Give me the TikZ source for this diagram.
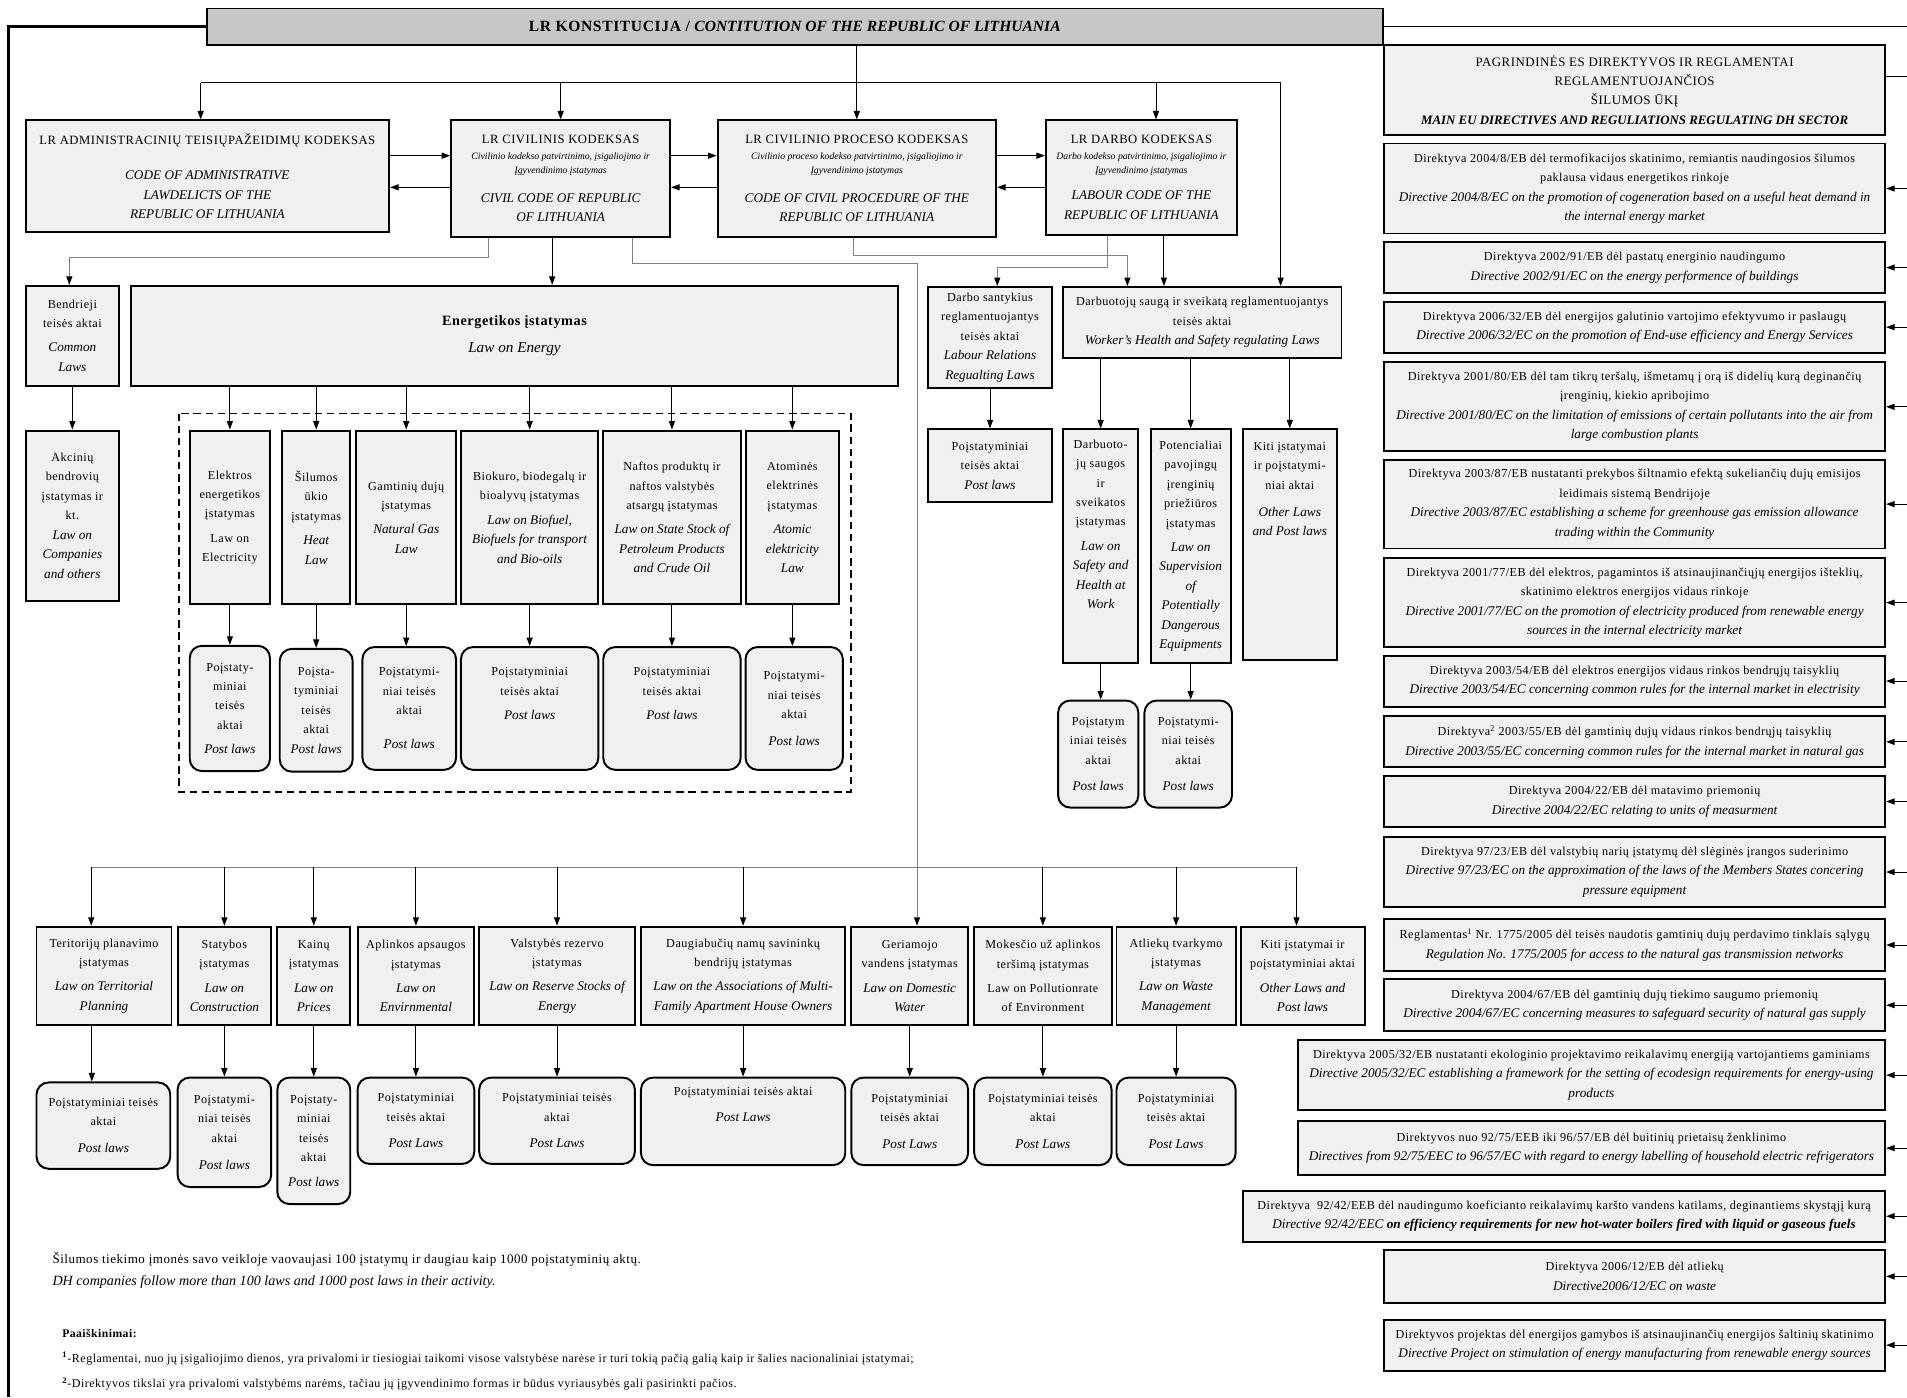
\documentclass[tikz,border=0pt]{standalone}
\usepackage{fontspec}
\setmainfont{Liberation Serif}[LetterSpace=4, ItalicFeatures={LetterSpace=0}, BoldItalicFeatures={LetterSpace=0}]
\usepackage{tikz}
\usetikzlibrary{arrows.meta}
\newcommand{\en}[1]{{\fontsize{10.9}{16}\selectfont\itshape #1}}
\newcommand{\sm}[1]{{\fontsize{8}{9}\selectfont\itshape #1}}

\begin{document}
\begin{tikzpicture}[x=1pt, y=-1pt,
    box/.style={draw, line width=1.6pt, fill=black!6, align=center, inner sep=2pt, font=\fontsize{10}{16}\selectfont},
    codebox/.style={box, font=\fontsize{10.4}{16}\selectfont},
    postbox/.style={box, rounded corners=10pt},
    dirbox/.style={box, minimum width=412pt},
    arr/.style={line width=0.8pt, -{Triangle[length=7pt, width=5pt]}},
    gline/.style={line width=0.8pt, draw=black!50},
    garr/.style={gline, -{Triangle[length=7pt, width=5pt, color=black]}},
    dashframe/.style={line width=1.5pt, dash pattern=on 6pt off 4pt},
    note/.style={anchor=base west, inner sep=0pt, font=\fontsize{10.7}{12}\selectfont}]
    \useasboundingbox (0,0) rectangle (1568,1149);
    \fill[white] (0,0) rectangle (1568,1149);

    \node[box, fill=black!22, minimum width=967pt, minimum height=30pt, font=\fontsize{12.8}{14}\selectfont] (const) at (653.5,22)
        {\textbf{LR KONSTITUCIJA / \textit{CONTITUTION OF THE REPUBLIC OF LITHUANIA}}};

    \node[codebox, minimum width=299pt, minimum height=92pt] (adm) at (170.5,145)
        {LR ADMINISTRACINIŲ TEISIŲPAŽEIDIMŲ KODEKSAS\\[13pt] \en{CODE OF ADMINISTRATIVE}\\ \en{LAWDELICTS OF THE}\\ \en{REPUBLIC OF LITHUANIA}};
    \node[codebox, minimum width=180pt, minimum height=96pt] (civ) at (461,147)
        {LR CIVILINIS KODEKSAS\\[-3pt] \sm{Civilinio kodekso patvirtinimo, įsigaliojimo ir}\\[-5pt] \sm{Įgyvendinimo įstatymas}\\[8pt] \en{CIVIL CODE OF REPUBLIC}\\ \en{OF LITHUANIA}};
    \node[codebox, minimum width=229pt, minimum height=96pt] (proc) at (704.5,147)
        {LR CIVILINIO PROCESO KODEKSAS\\[-3pt] \sm{Civilinio proceso kodekso patvirtinimo, įsigaliojimo ir}\\[-5pt] \sm{Įgyvendinimo įstatymas}\\[8pt] \en{CODE OF CIVIL PROCEDURE OF THE}\\ \en{REPUBLIC OF LITHUANIA}};
    \node[codebox, minimum width=157pt, minimum height=94pt] (darb) at (938.5,146)
        {LR DARBO KODEKSAS\\[-3pt] \sm{Darbo kodekso patvirtinimo, įsigaliojimo ir}\\[-5pt] \sm{Įgyvendinimo įstatymas}\\[6pt] \en{LABOUR CODE OF THE}\\ \en{REPUBLIC OF LITHUANIA}};

    \node[box, minimum width=77pt, minimum height=82pt] (bend) at (59.5,276)
        {Bendrieji\\ teisės aktai\\[4pt] \en{Common}\\ \en{Laws}};
    \node[box, minimum width=630pt, minimum height=82pt] (energ) at (423,276)
        {{\fontsize{11.7}{16}\selectfont\bfseries Energetikos įstatymas}\\[6pt] {\fontsize{12.5}{16}\selectfont\itshape Law on Energy}};
    \node[box, minimum width=102pt, minimum height=83pt] (dsant) at (814,277.5)
        {Darbo santykius\\ reglamentuojantys\\ teisės aktai\\ \en{Labour Relations}\\ \en{Regualting Laws}};
    \node[box, minimum width=229pt, minimum height=58pt] (dsauga) at (988.5,265)
        {Darbuotojų saugą ir sveikatą reglamentuojantys\\ teisės aktai\\ \en{Worker’s Health and Safety regulating Laws}};

    \node[box, minimum width=77pt, minimum height=140pt] (akc) at (59.5,424)
        {Akcinių\\ bendrovių\\ įstatymas ir\\ kt.\\ \en{Law on}\\ \en{Companies}\\ \en{and others}};

    \draw[dashframe] (147,340) rectangle (700,651);
    \node[box, minimum width=66pt, minimum height=143pt] (elek) at (189,425.5)
        {Elektros\\ energetikos\\ įstatymas\\[4pt] Law on\\ Electricity};
    \node[box, minimum width=56pt, minimum height=143pt] (silum) at (260,425.5)
        {Šilumos\\ ūkio\\ įstatymas\\[4pt] \en{Heat}\\ \en{Law}};
    \node[box, minimum width=82pt, minimum height=143pt] (gamt) at (334,425.5)
        {Gamtinių dujų\\ įstatymas\\[4pt] \en{Natural Gas}\\ \en{Law}};
    \node[box, minimum width=113pt, minimum height=143pt] (biok) at (435.5,425.5)
        {Biokuro, biodegalų ir\\ bioalyvų įstatymas\\[4pt] \en{Law on Biofuel,}\\ \en{Biofuels for transport}\\ \en{and Bio-oils}};
    \node[box, minimum width=113pt, minimum height=143pt] (naft) at (552.5,425.5)
        {Naftos produktų ir\\ naftos valstybės\\ atsargų įstatymas\\[4pt] \en{Law on State Stock of}\\ \en{Petroleum Products}\\ \en{and Crude Oil}};
    \node[box, minimum width=77pt, minimum height=143pt] (atom) at (651.5,425.5)
        {Atominės\\ elektrinės\\ įstatymas\\[4pt] \en{Atomic}\\ \en{elektricity}\\ \en{Law}};

    \node[postbox, minimum width=66pt, minimum height=103pt] (pelek) at (189,582.5)
        {Poįstaty-\\ miniai\\ teisės\\ aktai\\[4pt] \en{Post laws}};
    \node[postbox, minimum width=60pt, minimum height=101pt] (psilum) at (260,584)
        {Poįsta-\\ tyminiai\\ teisės\\ aktai\\ \en{Post laws}};
    \node[postbox, minimum width=77pt, minimum height=101pt] (pgamt) at (336.5,582.5)
        {Poįstatymi-\\ niai teisės\\ aktai\\[12pt] \en{Post laws}};
    \node[postbox, minimum width=113pt, minimum height=101pt] (pbiok) at (435.5,582.5)
        {Poįstatyminiai\\ teisės aktai\\[4pt] \en{Post laws}\\[8pt]};
    \node[postbox, minimum width=113pt, minimum height=101pt] (pnaft) at (552.5,582.5)
        {Poįstatyminiai\\ teisės aktai\\[4pt] \en{Post laws}\\[8pt]};
    \node[postbox, minimum width=80pt, minimum height=101pt] (patom) at (653,582.5)
        {Poįstatymi-\\ niai teisės\\ aktai\\[6pt] \en{Post laws}};

    \node[box, minimum width=102pt, minimum height=60pt] (dpost) at (814,383)
        {Poįstatyminiai\\ teisės aktai\\ \en{Post laws}};
    \node[box, minimum width=62pt, minimum height=192pt] (dsaug) at (905,449)
        {Darbuoto-\\ jų saugos\\ ir\\ sveikatos\\ įstatymas\\[4pt] \en{Law on}\\ \en{Safety and}\\ \en{Health at}\\ \en{Work}\\[20pt]};
    \node[box, minimum width=66pt, minimum height=192pt] (poten) at (979,449)
        {Potencialiai\\ pavojingų\\ įrenginių\\ priežiūros\\ įstatymas\\[4pt] \en{Law on}\\ \en{Supervision}\\ \en{of}\\ \en{Potentially}\\ \en{Dangerous}\\ \en{Equipments}};
    \node[box, minimum width=77pt, minimum height=190pt] (dkiti) at (1060.5,448)
        {Kiti įstatymai\\ ir poįstatymi-\\ niai aktai\\[6pt] \en{Other Laws}\\ \en{and Post laws}\\[76pt]};
    \node[postbox, minimum width=66pt, minimum height=88pt] (pdsaug) at (903,620)
        {Poįstatym\\ iniai teisės\\ aktai\\[6pt] \en{Post laws}};
    \node[postbox, minimum width=72pt, minimum height=88pt] (ppoten) at (977,620)
        {Poįstatymi-\\ niai teisės\\ aktai\\[6pt] \en{Post laws}};

    \node[box, minimum width=111pt, minimum height=81pt] (ter) at (85.5,802.5)
        {Teritorijų planavimo\\ įstatymas\\[4pt] \en{Law on Territorial}\\ \en{Planning}};
    \node[box, minimum width=77pt, minimum height=81pt] (stat) at (184.5,802.5)
        {Statybos\\ įstatymas\\[4pt] \en{Law on}\\ \en{Construction}};
    \node[box, minimum width=60pt, minimum height=81pt] (kain) at (258,802.5)
        {Kainų\\ įstatymas\\[4pt] \en{Law on}\\ \en{Prices}};
    \node[box, minimum width=96pt, minimum height=81pt] (aplink) at (342,802.5)
        {Aplinkos apsaugos\\ įstatymas\\[4pt] \en{Law on}\\ \en{Envirnmental}};
    \node[box, minimum width=128pt, minimum height=81pt] (valst) at (458,802.5)
        {Valstybės rezervo\\ įstatymas\\[4pt] \en{Law on Reserve Stocks of}\\ \en{Energy}};
    \node[box, minimum width=168pt, minimum height=81pt] (daug) at (611,802.5)
        {Daugiabučių namų savininkų\\ bendrijų įstatymas\\[4pt] \en{Law on the Associations of Multi-}\\ \en{Family Apartment House Owners}};
    \node[box, minimum width=96pt, minimum height=81pt] (geri) at (748,802.5)
        {Geriamojo\\ vandens įstatymas\\[4pt] \en{Law on Domestic}\\ \en{Water}};
    \node[box, minimum width=113pt, minimum height=81pt] (mok) at (857.5,802.5)
        {Mokesčio už aplinkos\\ teršimą įstatymas\\[4pt] Law on Pollutionrate\\ of Environment};
    \node[box, minimum width=98pt, minimum height=81pt] (atl) at (967,802.5)
        {Atliekų tvarkymo\\ įstatymas\\[4pt] \en{Law on Waste}\\ \en{Management}};
    \node[box, minimum width=102pt, minimum height=81pt] (bkiti) at (1071,802.5)
        {Kiti įstatymai ir\\ poįstatyminiai aktai\\[4pt] \en{Other Laws and}\\ \en{Post laws}};

    \node[postbox, minimum width=110pt, minimum height=71pt] (pter) at (85,925.5)
        {Poįstatyminiai teisės\\ aktai\\[6pt] \en{Post laws}};
    \node[postbox, minimum width=77pt, minimum height=90pt] (pstat) at (184.5,931)
        {Poįstatymi-\\ niai teisės\\ aktai\\[6pt] \en{Post laws}};
    \node[postbox, minimum width=60pt, minimum height=104pt] (pkain) at (258,938)
        {Poįstaty-\\ miniai\\ teisės\\ aktai\\[4pt] \en{Post laws}};
    \node[postbox, minimum width=96pt, minimum height=71pt] (paplink) at (342,921.5)
        {Poįstatyminiai\\ teisės aktai\\[6pt] \en{Post Laws}};
    \node[postbox, minimum width=128pt, minimum height=71pt] (pvalst) at (458,921.5)
        {Poįstatyminiai teisės\\ aktai\\[6pt] \en{Post Laws}};
    \node[postbox, minimum width=168pt, minimum height=72pt] (pdaug) at (611,922)
        {Poįstatyminiai teisės aktai\\[6pt] \en{Post Laws}\\[12pt]};
    \node[postbox, minimum width=96pt, minimum height=72pt] (pgeri) at (748,922)
        {Poįstatyminiai\\ teisės aktai\\[6pt] \en{Post Laws}};
    \node[postbox, minimum width=113pt, minimum height=72pt] (pmok) at (857.5,922)
        {Poįstatyminiai teisės\\ aktai\\[6pt] \en{Post Laws}};
    \node[postbox, minimum width=98pt, minimum height=72pt] (patl) at (967,922)
        {Poįstatyminiai\\ teisės aktai\\[6pt] \en{Post Laws}};

    \node[dirbox, minimum height=74pt, font=\fontsize{10.6}{16}\selectfont] (head) at (1344,74)
        {PAGRINDINĖS ES DIREKTYVOS IR REGLAMENTAI\\ REGLAMENTUOJANČIOS\\ ŠILUMOS ŪKĮ\\ \textbf{\textit{MAIN EU DIRECTIVES AND REGULIATIONS REGULATING DH SECTOR}}};
    \node[dirbox, minimum height=74pt] (d1) at (1344,155)
        {Direktyva 2004/8/EB dėl termofikacijos skatinimo, remiantis naudingosios šilumos\\ paklausa vidaus energetikos rinkoje\\ \en{Directive 2004/8/EC on the promotion of cogeneration based on a useful heat demand in}\\ \en{the internal energy market}};
    \node[dirbox, minimum height=42pt] (d2) at (1344,220)
        {Direktyva 2002/91/EB dėl pastatų energinio naudingumo\\ \en{Directive 2002/91/EC on the energy performence of buildings}};
    \node[dirbox, minimum height=42pt] (d3) at (1344,269)
        {Direktyva 2006/32/EB dėl energijos galutinio vartojimo efektyvumo ir paslaugų\\ \en{Directive 2006/32/EC on the promotion of End-use efficiency and Energy Services}};
    \node[dirbox, minimum height=73pt] (d4) at (1344,334.5)
        {Direktyva 2001/80/EB dėl tam tikrų teršalų, išmetamų į orą iš didelių kurą deginančių\\ įrenginių, kiekio apribojimo\\ \en{Directive 2001/80/EC on the limitation of emissions of certain pollutants into the air from}\\ \en{large combustion plants}};
    \node[dirbox, minimum height=73pt] (d5) at (1344,414.5)
        {Direktyva 2003/87/EB nustatanti prekybos šiltnamio efektą sukeliančių dujų emisijos\\ leidimais sistemą Bendrijoje\\ \en{Directive 2003/87/EC establishing a scheme for greenhouse gas emission allowance}\\ \en{trading within the Community}};
    \node[dirbox, minimum height=73pt] (d6) at (1344,495.5)
        {Direktyva 2001/77/EB dėl elektros, pagamintos iš atsinaujinančiųjų energijos išteklių,\\ skatinimo elektros energijos vidaus rinkoje\\ \en{Directive 2001/77/EC on the promotion of electricity produced from renewable energy}\\ \en{sources in the internal electricity market}};
    \node[dirbox, minimum height=42pt] (d7) at (1344,560)
        {Direktyva 2003/54/EB dėl elektros energijos vidaus rinkos bendrųjų taisyklių\\ \en{Directive 2003/54/EC concerning common rules for the internal market in electrisity}};
    \node[dirbox, minimum height=42pt] (d8) at (1344,610)
        {Direktyva\textsuperscript{2} 2003/55/EB dėl gamtinių dujų vidaus rinkos bendrųjų taisyklių\\ \en{Directive 2003/55/EC concerning common rules for the internal market in natural gas}};
    \node[dirbox, minimum height=42pt] (d9) at (1344,659)
        {Direktyva 2004/22/EB dėl matavimo priemonių\\ \en{Directive 2004/22/EC relating to units of measurment}};
    \node[dirbox, minimum height=58pt] (d10) at (1344,717)
        {Direktyva 97/23/EB dėl valstybių narių įstatymų dėl slėginės įrangos suderinimo\\ \en{Directive 97/23/EC on the approximation of the laws of the Members States concering}\\ \en{pressure equipment}};
    \node[dirbox, minimum height=42pt] (d11) at (1344,777)
        {Reglamentas\textsuperscript{1} Nr. 1775/2005 dėl teisės naudotis gamtinių dujų perdavimo tinklais sąlygų\\ \en{Regulation No. 1775/2005 for access to the natural gas transmission networks}};
    \node[dirbox, minimum height=43pt] (d12) at (1344,826.5)
        {Direktyva 2004/67/EB dėl gamtinių dujų tiekimo saugumo priemonių\\ \en{Directive 2004/67/EC concerning measures to safeguard security of natural gas supply}};
    \node[box, minimum width=483pt, minimum height=58pt] (d13) at (1308.5,884)
        {Direktyva 2005/32/EB nustatanti ekologinio projektavimo reikalavimų energiją vartojantiems gaminiams\\ \en{Directive 2005/32/EC establishing a framework for the setting of ecodesign requirements for energy-using}\\ \en{products}};
    \node[box, minimum width=483pt, minimum height=44pt] (d14) at (1308.5,944)
        {Direktyvos nuo 92/75/EEB iki 96/57/EB dėl buitinių prietaisų ženklinimo\\ \en{Directives from 92/75/EEC to 96/57/EC with regard to energy labelling of household electric refrigerators}};
    \node[box, minimum width=528pt, minimum height=42pt] (d15) at (1286,1000)
        {Direktyva \ 92/42/EEB dėl naudingumo koeficianto reikalavimų karšto vandens katilams, deginantiems skystąjį kurą\\ \en{Directive 92/42/EEC \textbf{on efficiency requirements for new hot-water boilers fired with liquid or gaseous fuels}}};
    \node[dirbox, minimum height=43pt] (d16) at (1344,1049.5)
        {Direktyva 2006/12/EB dėl atliekų\\ \en{Directive2006/12/EC on waste}};
    \node[dirbox, minimum height=42pt] (d17) at (1344,1106)
        {Direktyvos projektas dėl energijos gamybos iš atsinaujinančių energijos šaltinių skatinimo\\ \en{Directive Project on stimulation of energy manufacturing from renewable energy sources}};

    \node[note] (f1) at (43,1039) {Šilumos tiekimo įmonės savo veikloje vaovaujasi 100 įstatymų ir daugiau kaip 1000 poįstatyminių aktų.};
    \node[note, font=\fontsize{11.6}{12}\selectfont] (f2) at (43,1057) {\textit{DH companies follow more than 100 laws and 1000 post laws in their activity.}};
    \node[note, font=\fontsize{9.6}{10}\selectfont] (f3) at (51,1100) {\textbf{Paaiškinimai:}};
    \node[note, font=\fontsize{9.9}{10}\selectfont] (f4) at (51,1120) {\textsuperscript{\textbf{1}}-Reglamentai, nuo jų įsigaliojimo dienos, yra privalomi ir tiesiogiai taikomi visose valstybėse narėse ir turi tokią pačią galią kaip ir šalies nacionaliniai įstatymai;};
    \node[note, font=\fontsize{9.9}{10}\selectfont] (f5) at (51,1141) {\textsuperscript{\textbf{2}}-Direktyvos tikslai yra privalomi valstybėms narėms, tačiau jų įgyvendinimo formas ir būdus vyriausybės gali pasirinkti pačios.};

    \coordinate (lbot) at (7,1149);
    \coordinate (redge) at (1568,0);
    \coordinate (tb1) at (165,68);
    \coordinate (tb2) at (1053,68);
    \coordinate (ya) at (0,128);
    \coordinate (yb) at (0,154);
    \coordinate (bus1) at (75,713);
    \coordinate (bus2) at (1066,713);

    \draw[line width=2.4pt] (const.west) -| (lbot);
    \draw[line width=1.2pt] (const.east) -- (redge |- const.east);
    \draw[line width=0.8pt] ([yshift=11pt]head.east) -- ++(18,0);
    \foreach \n in {d1,d2,d3,d4,d5,d6,d7,d8,d9,d10,d11,d12,d13,d14,d15,d16,d17}
        \draw[arr] (redge |- \n.east) -- (\n.east);

    \draw[line width=0.8pt] (tb1) -- (tb2);
    \draw[arr] (const.south -| proc.north) -- (proc.north);
    \draw[arr] (tb1) -- (tb1 |- adm.north);
    \draw[arr] (civ.north |- tb1) -- (civ.north);
    \draw[arr] ([xshift=12pt]darb.north |- tb1) -- ([xshift=12pt]darb.north);
    \draw[arr] (tb2) -- (tb2 |- dsauga.north);

    \draw[arr] (adm.east |- ya) -- (civ.west |- ya);
    \draw[arr] (civ.west |- yb) -- (adm.east |- yb);
    \draw[arr] (civ.east |- ya) -- (proc.west |- ya);
    \draw[arr] (proc.west |- yb) -- (civ.east |- yb);
    \draw[arr] (proc.east |- ya) -- (darb.west |- ya);
    \draw[arr] (darb.west |- yb) -- (proc.east |- yb);

    \draw[garr] ([xshift=-59pt]civ.south) -- ++(0,16) -| ([xshift=-2.5pt]bend.north);
    \draw[arr] ([xshift=-7pt]civ.south) -- ([xshift=31pt]energ.north);
    \draw[garr] ([xshift=59pt]civ.south) -- ++(0,21) -| ([xshift=6pt]geri.north);
    \draw[garr] ([xshift=-2.5pt]proc.south) -- ++(0,14) -| ([xshift=-61.5pt]dsauga.north);
    \draw[garr] ([xshift=-27.5pt]darb.south) -- ++(0,26) -| ([xshift=6pt]dsant.north);
    \draw[arr] ([xshift=18.5pt]darb.south) -- ([xshift=-31.5pt]dsauga.north);

    \draw[arr] (bend) -- (akc);
    \foreach \n in {elek,silum,gamt,biok,naft,atom}
        \draw[arr] (energ.south -| \n.north) -- (\n.north);
    \foreach \n in {elek,silum,gamt,biok,naft,atom}
        \draw[arr] (\n.south) -- (\n.south |- p\n.north);

    \draw[arr] (dsant) -- (dpost);
    \foreach \n in {dsaug,poten,dkiti}
        \draw[arr] (dsauga.south -| \n.north) -- (\n.north);
    \draw[arr] (dsaug.south) -- (dsaug.south |- pdsaug.north);
    \draw[arr] (poten.south) -- (poten.south |- ppoten.north);

    \draw[gline] (bus1) -- (bus2);
    \draw[arr] (bus1) -- (bus1 |- ter.north);
    \foreach \n in {stat,kain,aplink,valst,daug,mok,atl}
        \draw[arr] (\n.north |- bus1) -- (\n.north);
    \draw[arr] (bus2) -- (bus2 |- bkiti.north);
    \draw[arr] ([xshift=-10pt]ter.south) -- ([xshift=-10pt]ter.south |- pter.north);
    \foreach \n in {stat,kain,aplink,valst,daug,geri,mok,atl}
        \draw[arr] (\n.south) -- (\n.south |- p\n.north);
\end{tikzpicture}
\end{document}
